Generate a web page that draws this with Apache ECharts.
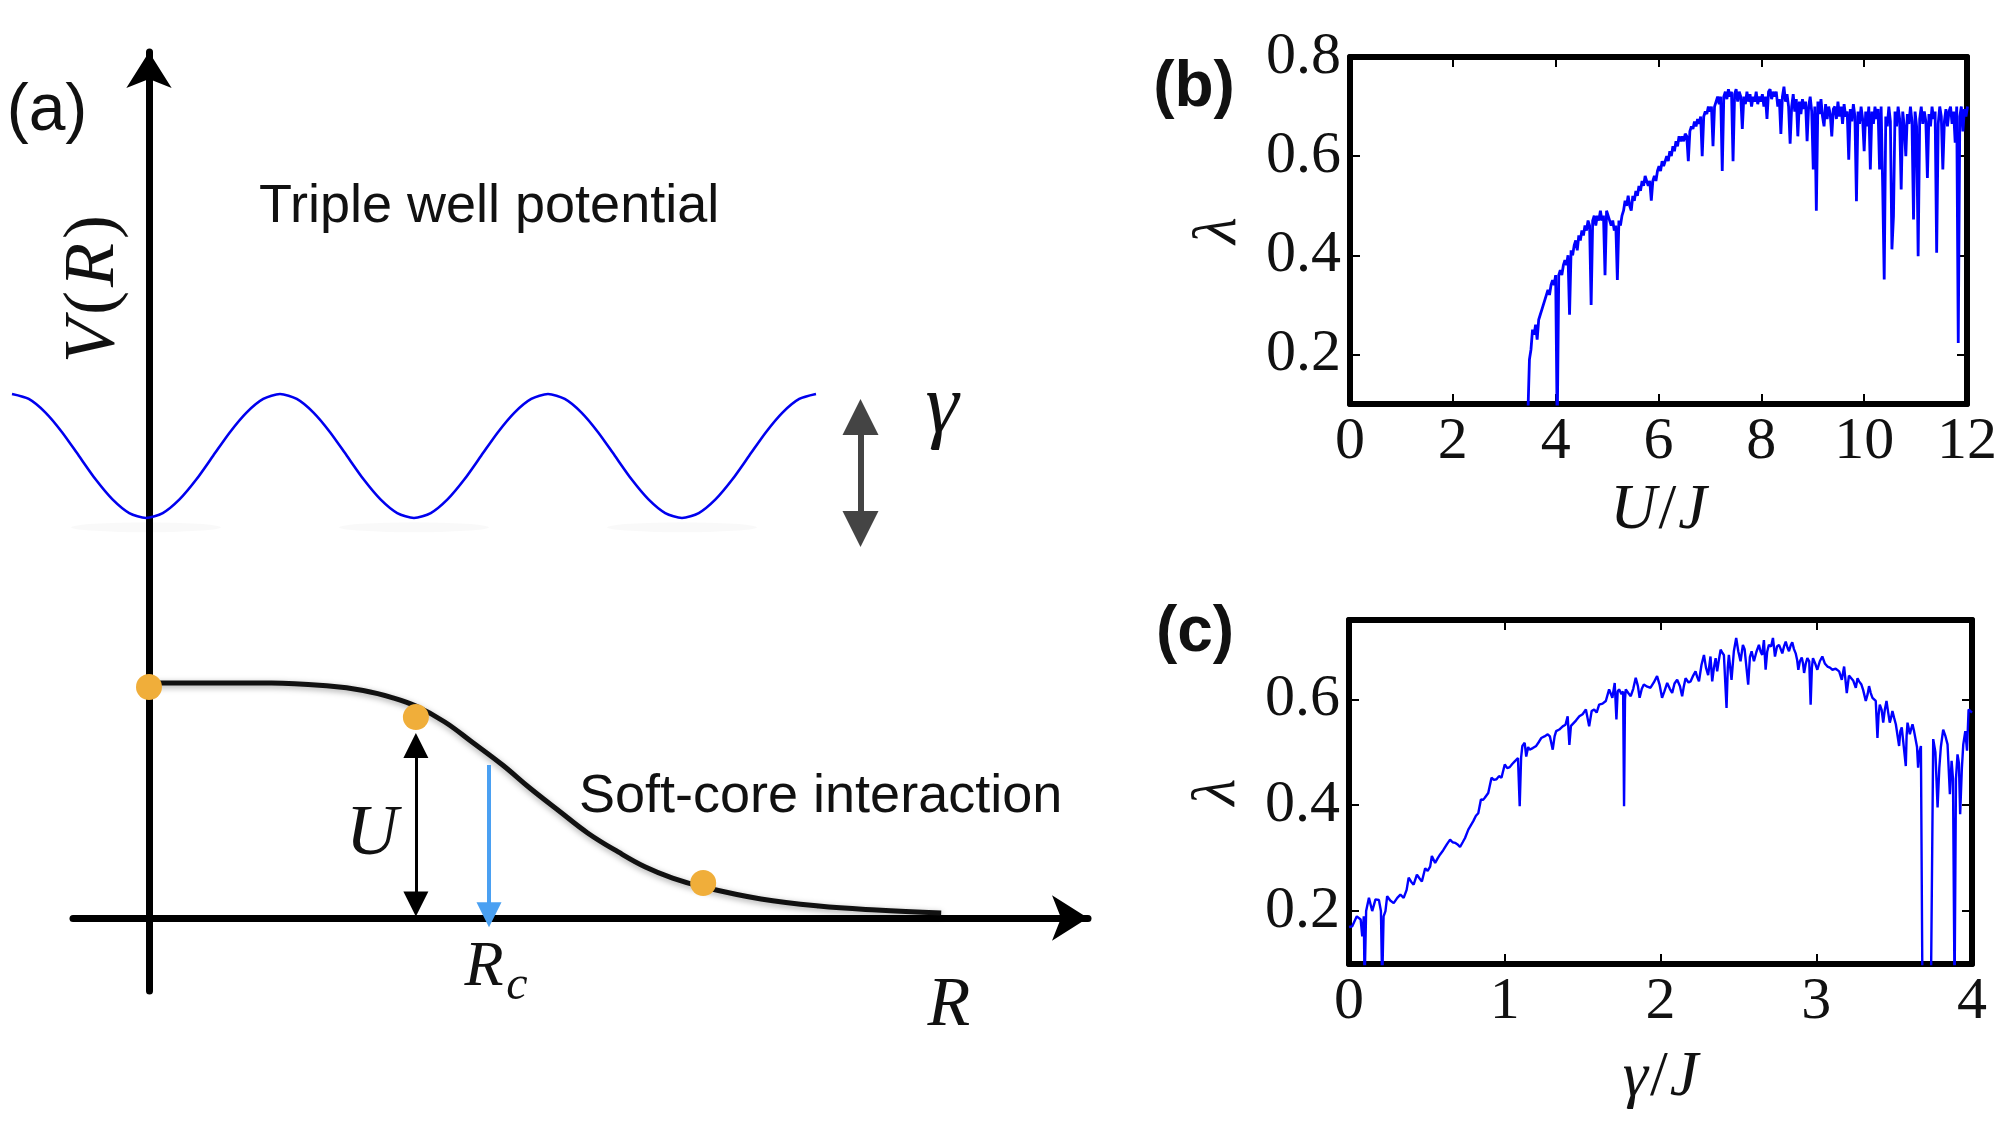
<!DOCTYPE html>
<html>
<head>
<meta charset="utf-8">
<title>Soft-core interaction and lambda</title>
<script src="https://cdn.jsdelivr.net/npm/echarts@6/dist/echarts.min.js"></script>
<style>
html, body { margin: 0; padding: 0; background: #fff; }
#chart { width: 2000px; height: 1128px; }
</style>
</head>
<body>
<div id="chart"></div>
<script>
// ---- panel (a): sketch values ----
// triple well, x in well spacings (troughs at 0, 1, 2), V normalised to the peak
var wellCurve = [
	[-0.5, 1], [-0.4375, 0.96], [-0.375, 0.85], [-0.3125, 0.69], [-0.25, 0.5], [-0.1875, 0.31], [-0.125, 0.15], [-0.0625, 0.04],
	[0, 0], [0.0625, 0.04], [0.125, 0.15], [0.1875, 0.31], [0.25, 0.5], [0.3125, 0.69], [0.375, 0.85], [0.4375, 0.96],
	[0.5, 1], [0.5625, 0.96], [0.625, 0.85], [0.6875, 0.69], [0.75, 0.5], [0.8125, 0.31], [0.875, 0.15], [0.9375, 0.04],
	[1, 0], [1.0625, 0.04], [1.125, 0.15], [1.1875, 0.31], [1.25, 0.5], [1.3125, 0.69], [1.375, 0.85], [1.4375, 0.96],
	[1.5, 1], [1.5625, 0.96], [1.625, 0.85], [1.6875, 0.69], [1.75, 0.5], [1.8125, 0.31], [1.875, 0.15], [1.9375, 0.04],
	[2, 0], [2.0625, 0.04], [2.125, 0.15], [2.1875, 0.31], [2.25, 0.5], [2.3125, 0.69], [2.375, 0.85], [2.4375, 0.96],
	[2.5, 1]
];
var wellShadows = [[0, -0.075], [1, -0.075], [2, -0.075]];
var gammaArrow = [[2.666, 0.815], [2.666, -0.089]];

// soft-core potential, R in units of Rc, V in units of the plateau
var softCore = [
	[0, 1], [0.04, 1], [0.36, 1], [0.53, 0.987], [0.63, 0.968], [0.72, 0.936],
	[0.785, 0.902], [0.87, 0.834], [0.95, 0.749], [1.04, 0.651], [1.12, 0.553],
	[1.21, 0.451], [1.29, 0.362], [1.38, 0.281], [1.46, 0.217], [1.54, 0.170],
	[1.63, 0.132], [1.80, 0.081], [1.97, 0.051], [2.14, 0.034], [2.33, 0.021]
];
var softDots = [[0, 0.983], [0.785, 0.855], [1.63, 0.149]];
var uArrow = [[0.785, 0.06], [0.785, 0.734]];
var rcArrow = [[1.0, 0.651], [1.0, 0.014]];

// ---- panel (b): lambda vs U/J, sampled every 0.03 starting at U/J = 3.46 ----
var uTicks = [0, 2, 4, 6, 8, 10, 12];
var lambdaTicksB = [0.2, 0.4, 0.6, 0.8];
var uStart = 3.46, uStep = 0.03;
var lambdaU = [
	0.08, 0.19, 0.21, 0.25, 0.24, 0.26, 0.23, 0.27, 0.28, 0.29,
	0.30, 0.31, 0.32, 0.33, 0.32, 0.34, 0.35, 0.34, 0.36, 0.05,
	0.36, 0.37, 0.36, 0.38, 0.39, 0.38, 0.40, 0.28, 0.41, 0.40,
	0.42, 0.43, 0.41, 0.44, 0.43, 0.45, 0.44, 0.46, 0.45, 0.47,
	0.46, 0.30, 0.47, 0.48, 0.46, 0.48, 0.47, 0.49, 0.47, 0.48,
	0.36, 0.49, 0.48, 0.47, 0.46, 0.47, 0.45, 0.46, 0.35, 0.47,
	0.46, 0.48, 0.49, 0.51, 0.50, 0.52, 0.50, 0.49, 0.52, 0.51,
	0.53, 0.52, 0.54, 0.53, 0.55, 0.54, 0.56, 0.55, 0.54, 0.55,
	0.51, 0.55, 0.56, 0.55, 0.57, 0.58, 0.57, 0.59, 0.58, 0.59,
	0.60, 0.59, 0.61, 0.60, 0.62, 0.61, 0.63, 0.62, 0.64, 0.63,
	0.64, 0.63, 0.645, 0.64, 0.59, 0.65, 0.66, 0.655, 0.67, 0.66,
	0.675, 0.665, 0.68, 0.60, 0.68, 0.69, 0.685, 0.70, 0.69, 0.70,
	0.62, 0.70, 0.71, 0.72, 0.705, 0.72, 0.57, 0.72, 0.73, 0.715,
	0.735, 0.72, 0.73, 0.59, 0.725, 0.735, 0.71, 0.73, 0.72, 0.655,
	0.72, 0.705, 0.73, 0.71, 0.725, 0.70, 0.72, 0.71, 0.73, 0.705,
	0.72, 0.71, 0.725, 0.70, 0.72, 0.675, 0.73, 0.735, 0.715, 0.73,
	0.72, 0.73, 0.70, 0.715, 0.645, 0.72, 0.74, 0.71, 0.725, 0.70,
	0.625, 0.70, 0.725, 0.69, 0.715, 0.64, 0.71, 0.685, 0.715, 0.695,
	0.71, 0.63, 0.70, 0.72, 0.69, 0.573, 0.70, 0.49, 0.71, 0.685,
	0.715, 0.68, 0.66, 0.705, 0.675, 0.70, 0.685, 0.64, 0.695, 0.70,
	0.675, 0.71, 0.68, 0.70, 0.665, 0.705, 0.68, 0.69, 0.593, 0.695,
	0.67, 0.705, 0.68, 0.509, 0.69, 0.665, 0.70, 0.675, 0.61, 0.69,
	0.66, 0.70, 0.573, 0.69, 0.665, 0.70, 0.675, 0.695, 0.573, 0.70,
	0.539, 0.351, 0.68, 0.66, 0.70, 0.67, 0.412, 0.479, 0.69, 0.66,
	0.70, 0.675, 0.533, 0.69, 0.66, 0.60, 0.685, 0.665, 0.70, 0.67,
	0.472, 0.69, 0.66, 0.398, 0.675, 0.70, 0.665, 0.69, 0.67, 0.556,
	0.685, 0.66, 0.70, 0.675, 0.69, 0.405, 0.665, 0.70, 0.68, 0.573,
	0.67, 0.695, 0.66, 0.69, 0.70, 0.665, 0.69, 0.627, 0.70, 0.223,
	0.68, 0.70, 0.65, 0.695, 0.68, 0.70
];

// ---- panel (c): lambda vs gamma/J ----
var gammaTicks = [0, 1, 2, 3, 4];
var lambdaTicksC = [0.2, 0.4, 0.6];
var lambdaGamma = [
	[0.0,0.17],[0.02,0.171],[0.05,0.19],[0.075,0.184],[0.085,0.152],[0.095,0.19],[0.1,0.06],[0.11,0.2],
	[0.128,0.225],[0.149,0.2],[0.17,0.222],[0.192,0.221],[0.205,0.2],[0.213,0.06],[0.222,0.19],[0.234,0.2],
	[0.245,0.228],[0.265,0.22],[0.287,0.215],[0.31,0.225],[0.33,0.231],[0.351,0.225],[0.37,0.24],[0.383,0.263],
	[0.4,0.255],[0.415,0.25],[0.436,0.269],[0.452,0.262],[0.468,0.256],[0.489,0.281],[0.505,0.276],[0.521,0.284],
	[0.532,0.304],[0.553,0.291],[0.57,0.3],[0.585,0.307],[0.605,0.315],[0.628,0.326],[0.649,0.335],[0.665,0.33],
	[0.681,0.329],[0.697,0.326],[0.713,0.321],[0.73,0.33],[0.745,0.338],[0.766,0.354],[0.782,0.362],[0.798,0.37],
	[0.815,0.38],[0.83,0.385],[0.847,0.411],[0.86,0.41],[0.872,0.414],[0.894,0.423],[0.915,0.452],[0.93,0.448],
	[0.947,0.449],[0.963,0.455],[0.979,0.452],[1.0,0.477],[1.016,0.47],[1.032,0.472],[1.048,0.478],[1.064,0.483],
	[1.085,0.489],[1.096,0.398],[1.105,0.49],[1.113,0.512],[1.128,0.518],[1.138,0.492],[1.15,0.51],[1.16,0.505],
	[1.18,0.508],[1.202,0.512],[1.22,0.52],[1.234,0.527],[1.255,0.53],[1.276,0.534],[1.29,0.53],[1.308,0.505],
	[1.32,0.53],[1.33,0.54],[1.35,0.543],[1.372,0.549],[1.39,0.552],[1.404,0.568],[1.415,0.514],[1.425,0.55],
	[1.436,0.549],[1.457,0.56],[1.479,0.568],[1.5,0.572],[1.521,0.581],[1.542,0.549],[1.558,0.578],[1.574,0.581],
	[1.59,0.575],[1.606,0.59],[1.628,0.592],[1.649,0.597],[1.67,0.619],[1.691,0.603],[1.706,0.631],[1.717,0.562],
	[1.725,0.615],[1.734,0.619],[1.75,0.61],[1.76,0.615],[1.766,0.398],[1.772,0.6],[1.777,0.619],[1.793,0.612],
	[1.809,0.606],[1.825,0.62],[1.841,0.641],[1.855,0.625],[1.866,0.603],[1.88,0.62],[1.893,0.628],[1.915,0.624],
	[1.936,0.622],[1.957,0.632],[1.978,0.644],[1.994,0.628],[2.01,0.603],[2.025,0.615],[2.043,0.631],[2.06,0.62],
	[2.075,0.612],[2.09,0.63],[2.107,0.637],[2.125,0.625],[2.139,0.606],[2.15,0.625],[2.161,0.64],[2.18,0.632],
	[2.193,0.634],[2.21,0.645],[2.225,0.653],[2.236,0.642],[2.247,0.634],[2.263,0.665],[2.279,0.684],[2.292,0.66],
	[2.306,0.646],[2.321,0.681],[2.332,0.634],[2.343,0.66],[2.354,0.678],[2.364,0.653],[2.375,0.675],[2.386,0.694],
	[2.397,0.688],[2.407,0.684],[2.424,0.584],[2.432,0.66],[2.439,0.684],[2.456,0.637],[2.471,0.691],[2.486,0.716],
	[2.5,0.69],[2.514,0.672],[2.529,0.703],[2.54,0.695],[2.55,0.697],[2.563,0.628],[2.574,0.68],[2.585,0.691],
	[2.6,0.672],[2.616,0.69],[2.632,0.703],[2.643,0.69],[2.653,0.684],[2.664,0.712],[2.675,0.656],[2.685,0.69],
	[2.696,0.703],[2.71,0.7],[2.722,0.716],[2.735,0.681],[2.748,0.7],[2.761,0.703],[2.772,0.695],[2.782,0.687],
	[2.793,0.7],[2.804,0.709],[2.815,0.698],[2.825,0.691],[2.836,0.702],[2.846,0.708],[2.857,0.695],[2.868,0.687],
	[2.877,0.675],[2.885,0.656],[2.895,0.672],[2.907,0.679],[2.915,0.668],[2.922,0.65],[2.933,0.668],[2.943,0.678],
	[2.955,0.672],[2.964,0.59],[2.972,0.66],[2.979,0.678],[2.993,0.668],[3.007,0.656],[3.023,0.672],[3.039,0.681],
	[3.055,0.668],[3.072,0.662],[3.088,0.66],[3.104,0.656],[3.125,0.658],[3.147,0.653],[3.164,0.637],[3.179,0.662],
	[3.196,0.612],[3.21,0.645],[3.222,0.644],[3.238,0.635],[3.254,0.622],[3.265,0.64],[3.275,0.634],[3.29,0.628],
	[3.301,0.618],[3.318,0.597],[3.33,0.61],[3.339,0.625],[3.35,0.612],[3.361,0.603],[3.372,0.605],[3.382,0.597],
	[3.393,0.527],[3.4,0.57],[3.408,0.59],[3.42,0.58],[3.43,0.556],[3.44,0.58],[3.451,0.597],[3.462,0.575],
	[3.472,0.556],[3.48,0.565],[3.489,0.578],[3.5,0.565],[3.511,0.553],[3.522,0.55],[3.532,0.512],[3.54,0.54],
	[3.549,0.547],[3.56,0.545],[3.575,0.474],[3.58,0.53],[3.586,0.556],[3.594,0.545],[3.601,0.534],[3.61,0.545],
	[3.618,0.553],[3.628,0.54],[3.639,0.537],[3.647,0.51],[3.654,0.471],[3.662,0.5],[3.672,0.512],[3.682,0.04],
	[3.72,0.04],[3.736,0.04],[3.751,0.525],[3.765,0.5],[3.779,0.396],[3.79,0.47],[3.8,0.51],[3.815,0.543],
	[3.83,0.53],[3.843,0.515],[3.858,0.421],[3.869,0.484],[3.878,0.45],[3.888,0.04],[3.897,0.45],[3.907,0.496],
	[3.916,0.48],[3.924,0.383],[3.935,0.47],[3.944,0.515],[3.957,0.54],[3.968,0.503],[3.978,0.581],[3.99,0.58],
	[4.0,0.575]
];

var SERIF = '"Liberation Serif", "DejaVu Serif", serif';
var SANS = '"Liberation Sans", Arial, sans-serif';
var INK = '#111';

// pair the sampled lambda values with their U/J grid
var lambdaUData = lambdaU.map(function(v, i) {
	return [+(uStart + i * uStep).toFixed(2), v];
});

function mathName(a, b) {
	return '{i|' + a + '}{n|/}{i|' + b + '}';
}

var nameRich = {
	i: { fontFamily: SERIF, fontStyle: 'italic', fontSize: 64, color: INK },
	n: { fontFamily: SERIF, fontSize: 64, color: INK, padding: [0, 2] }
};

// framed panel axes: thick box, inward ticks on all four sides
function boxX(gridIndex, ticks, bottom, name, gap) {
	return {
		type: 'value', gridIndex: gridIndex, min: ticks[0], max: ticks[ticks.length - 1],
		interval: ticks[1] - ticks[0],
		position: bottom ? 'bottom' : 'top',
		name: bottom ? name : '', nameLocation: 'middle', nameGap: gap || 0,
		nameTextStyle: { rich: nameRich },
		axisLine: { show: true, onZero: false, lineStyle: { color: '#000', width: 6 } },
		axisTick: { show: true, inside: true, length: 10, lineStyle: { color: '#000', width: 2 } },
		axisLabel: { show: bottom, margin: 8, fontFamily: SERIF, fontSize: 60, color: INK },
		splitLine: { show: false }
	};
}

function boxY(gridIndex, max, ticks, left) {
	return {
		type: 'value', gridIndex: gridIndex, min: 0.1, max: max,
		position: left ? 'left' : 'right',
		name: left ? 'λ' : '', nameLocation: 'middle', nameRotate: 90, nameGap: 100,
		nameTextStyle: { fontFamily: SERIF, fontStyle: 'italic', fontSize: 62, color: INK },
		axisLine: { show: true, onZero: false, lineStyle: { color: '#000', width: 6 } },
		axisTick: { show: true, inside: true, length: 10, customValues: ticks, lineStyle: { color: '#000', width: 2 } },
		axisLabel: { show: left, margin: 9, customValues: ticks, fontFamily: SERIF, fontSize: 60, color: INK },
		splitLine: { show: false }
	};
}

function arrowLines(xi, yi, pts, color, width, symbols, size) {
	return {
		type: 'lines', coordinateSystem: 'cartesian2d', xAxisIndex: xi, yAxisIndex: yi,
		symbol: symbols, symbolSize: size, z: 6, silent: true, clip: false,
		lineStyle: { color: color, width: width, opacity: 1, curveness: 0 },
		data: [{ coords: pts }]
	};
}

function label(x, y, text, style, rotation) {
	var s = { text: text, fill: INK, align: 'center', verticalAlign: 'middle' };
	for (var k in style) s[k] = style[k];
	return { type: 'text', x: x, y: y, z: 20, rotation: rotation || 0, style: s };
}

var chart = echarts.init(document.getElementById('chart'), null, { renderer: 'canvas' });

chart.setOption({
	animation: false,
	backgroundColor: '#fff',
	grid: [
		{ left: 73, top: 52, width: 1015, height: 939 },     // (a) main axes
		{ left: 12, top: 394, width: 938, height: 124 },     // (a) triple well
		{ left: 1350, top: 57, width: 623, height: 347 },    // (b)
		{ left: 1349, top: 620, width: 623, height: 344 }    // (c)
	],
	xAxis: [
		{
			type: 'value', gridIndex: 0, min: -0.2235, max: 2.7618,
			axisLine: {
				show: true, onZero: true, symbol: ['none', 'arrow'], symbolSize: [34, 36],
				lineStyle: { color: '#000', width: 7 }
			},
			axisTick: { show: false }, axisLabel: { show: false }, splitLine: { show: false }
		},
		{ type: 'value', gridIndex: 1, min: -0.5, max: 3.0, show: false },
		boxX(2, uTicks, true, mathName('U', 'J'), 75),
		boxX(2, uTicks, false),
		boxX(3, gammaTicks, true, mathName('γ', 'J'), 82),
		boxX(3, gammaTicks, false)
	],
	yAxis: [
		{
			type: 'value', gridIndex: 0, min: -0.3106, max: 3.685,
			axisLine: {
				show: true, onZero: true, symbol: ['none', 'arrow'], symbolSize: [34, 36],
				lineStyle: { color: '#000', width: 7 }
			},
			axisTick: { show: false }, axisLabel: { show: false }, splitLine: { show: false }
		},
		{ type: 'value', gridIndex: 1, min: 0, max: 1, show: false },
		boxY(2, 0.8, lambdaTicksB, true),
		boxY(2, 0.8, lambdaTicksB, false),
		boxY(3, 0.75, lambdaTicksC, true),
		boxY(3, 0.75, lambdaTicksC, false)
	],
	series: [
		// faint blurred shadows under the three wells
		{
			type: 'scatter', xAxisIndex: 1, yAxisIndex: 1, data: wellShadows,
			symbol: 'circle', symbolSize: [150, 10], z: 1, silent: true, clip: false,
			itemStyle: { color: 'rgba(0,0,0,0.025)', opacity: 1, shadowBlur: 22, shadowColor: 'rgba(0,0,0,0.16)' }
		},
		{
			type: 'line', xAxisIndex: 1, yAxisIndex: 1, data: wellCurve, smooth: 0.25,
			showSymbol: false, clip: false, z: 3,
			lineStyle: { color: '#0000ee', width: 2.6 }
		},
		arrowLines(1, 1, gammaArrow, '#444', 6, ['triangle', 'triangle'], 36),
		{
			type: 'line', xAxisIndex: 0, yAxisIndex: 0, data: softCore, smooth: 0.4,
			showSymbol: false, z: 3,
			lineStyle: { color: '#111', width: 5, shadowBlur: 6, shadowColor: 'rgba(0,0,0,0.35)', shadowOffsetY: 2 }
		},
		arrowLines(0, 0, uArrow, '#000', 3, ['triangle', 'triangle'], 25),
		arrowLines(0, 0, rcArrow, '#4aa0f2', 4, ['none', 'triangle'], 25),
		{
			type: 'scatter', xAxisIndex: 0, yAxisIndex: 0, data: softDots,
			symbolSize: 26, z: 8,
			itemStyle: { color: '#f0ae3a', opacity: 1 }
		},
		{
			type: 'line', xAxisIndex: 2, yAxisIndex: 2, data: lambdaUData,
			showSymbol: false, z: 3, lineStyle: { color: '#0000ff', width: 2.8 }
		},
		{
			type: 'line', xAxisIndex: 4, yAxisIndex: 4, data: lambdaGamma,
			showSymbol: false, z: 3, lineStyle: { color: '#0000ff', width: 2.4 }
		}
	],
	graphic: [
		label(47, 112, '(a)', { fontFamily: SANS, fontSize: 66 }),
		label(1194, 88, '(b)', { fontFamily: SANS, fontSize: 64, fontWeight: 'bold' }),
		label(1195, 633, '(c)', { fontFamily: SANS, fontSize: 64, fontWeight: 'bold' }),
		label(259, 207, 'Triple well potential', { fontFamily: SANS, fontSize: 54, align: 'left' }),
		label(579, 797, 'Soft-core interaction', { fontFamily: SANS, fontSize: 54, align: 'left' }),
		label(94, 287, '{i|V}{n|(}{i|R}{n|)}', {
			fontFamily: SERIF, fontSize: 72,
			rich: {
				i: { fontFamily: SERIF, fontStyle: 'italic', fontSize: 72, fill: INK },
				n: { fontFamily: SERIF, fontSize: 72, fill: INK, padding: [0, 4] }
			}
		}, Math.PI / 2),
		label(372, 835, 'U', { fontFamily: SERIF, fontStyle: 'italic', fontSize: 72 }),
		label(484, 968, 'R', { fontFamily: SERIF, fontStyle: 'italic', fontSize: 64 }),
		label(517, 986, 'c', { fontFamily: SERIF, fontStyle: 'italic', fontSize: 48 }),
		label(949, 1007, 'R', { fontFamily: SERIF, fontStyle: 'italic', fontSize: 70 }),
		label(942, 410, 'γ', { fontFamily: SERIF, fontStyle: 'italic', fontSize: 84 })
	]
});
</script>
</body>
</html>
